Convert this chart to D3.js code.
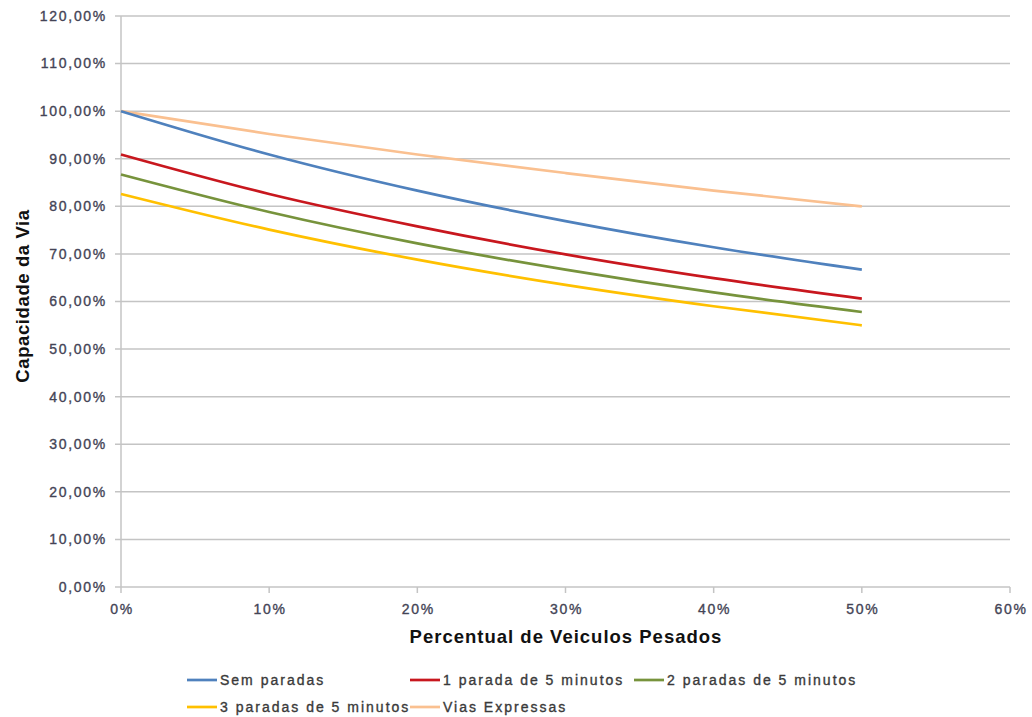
<!DOCTYPE html>
<html><head><meta charset="utf-8">
<script src="https://cdn.jsdelivr.net/npm/d3@7"></script>
<style>body{margin:0;background:#fff;font-family:"Liberation Sans",Arial,sans-serif;}</style>
</head><body><svg id="c" width="1032" height="717"></svg>
<script>
const xValues = [0, 10, 20, 30, 40, 50];
const semParadas = [100, 90.9, 83.3, 76.9, 71.4, 66.7];
const umaParada = [90.9, 82.6, 75.8, 69.9, 64.9, 60.6];
const duasParadas = [86.7, 78.8, 72.2, 66.7, 61.9, 57.8];
const tresParadas = [82.6, 75.1, 68.8, 63.5, 59.0, 55.0];
const viasExpressas = [100, 95.2, 90.9, 87.0, 83.3, 80.0];
const seriesNames = ["Sem paradas", "1 parada de 5 minutos", "2 paradas de 5 minutos", "3 paradas de 5 minutos", "Vias Expressas"];
const seriesColors = ["#4F81BD", "#C8171E", "#77933C", "#FFC000", "#FAC090"];
const yTicks = [0,10,20,30,40,50,60,70,80,90,100,110,120];
const xTicks = [0,10,20,30,40,50,60];

const series = [semParadas, umaParada, duasParadas, tresParadas, viasExpressas];
const svg = d3.select("#c");
const x = d3.scaleLinear().domain([0, 60]).range([121, 1010]);
const y = d3.scaleLinear().domain([0, 120]).range([587, 16]);

// gridlines
svg.append("g").selectAll("line").data(yTicks).join("line")
  .attr("x1", 115).attr("x2", 1010)
  .attr("y1", d => y(d)).attr("y2", d => y(d))
  .attr("stroke", "#C4C4C4").attr("stroke-width", 1.5);

// y axis line
svg.append("line").attr("x1", 121).attr("x2", 121).attr("y1", y(120)).attr("y2", y(0))
  .attr("stroke", "#C4C4C4").attr("stroke-width", 1.5);
// x axis ticks
svg.append("g").selectAll("line").data(xTicks).join("line")
  .attr("x1", d => x(d)).attr("x2", d => x(d)).attr("y1", 587).attr("y2", 593)
  .attr("stroke", "#C4C4C4").attr("stroke-width", 1.5);

// y tick labels
svg.append("g").selectAll("text").data(yTicks).join("text")
  .attr("x", 107).attr("y", d => y(d)).attr("dy", "0.35em")
  .attr("text-anchor", "end").attr("font-size", 14).attr("letter-spacing", 1.7)
  .attr("fill", "#444456").attr("stroke", "#444456").attr("stroke-width", 0.35)
  .text(d => d.toFixed(2).replace(".", ",") + "%");
// x tick labels
svg.append("g").selectAll("text").data(xTicks).join("text")
  .attr("x", d => x(d) + 1).attr("y", 609).attr("dy", "0.35em")
  .attr("text-anchor", "middle").attr("font-size", 14).attr("letter-spacing", 1.7)
  .attr("fill", "#444456").attr("stroke", "#444456").attr("stroke-width", 0.35)
  .text(d => d + "%");

// axis titles
svg.append("text").attr("x", 566).attr("y", 643).attr("text-anchor", "middle")
  .attr("font-size", 18.5).attr("letter-spacing", 1).attr("font-weight", "bold").attr("fill", "#111")
  .text("Percentual de Veiculos Pesados");
svg.append("text").attr("transform", "translate(29,296) rotate(-90)").attr("text-anchor", "middle")
  .attr("font-size", 18.5).attr("letter-spacing", 0.6).attr("font-weight", "bold").attr("fill", "#111")
  .text("Capacidade da Via");

// lines
const line = d3.line().x((d, i) => x(xValues[i])).y(d => y(d)).curve(d3.curveMonotoneX);
const drawOrder = [4, 0, 1, 2, 3];
svg.append("g").selectAll("path").data(drawOrder).join("path")
  .attr("d", i => line(series[i]))
  .attr("fill", "none").attr("stroke", i => seriesColors[i]).attr("stroke-width", 2.7);

// legend
const legendPos = [[187, 680], [410, 680], [634, 680], [187, 707], [410, 707]];
const lg = svg.append("g").selectAll("g").data(seriesNames).join("g")
  .attr("transform", (d, i) => `translate(${legendPos[i][0]},${legendPos[i][1]})`);
lg.append("line").attr("x1", 0).attr("x2", 30).attr("y1", 0).attr("y2", 0)
  .attr("stroke", (d, i) => seriesColors[i]).attr("stroke-width", 2.7);
lg.append("text").attr("x", 33).attr("y", 0).attr("dy", "0.35em")
  .attr("font-size", 14).attr("letter-spacing", 2)
  .attr("fill", "#3a3a3a").attr("stroke", "#3a3a3a").attr("stroke-width", 0.35).text(d => d);
</script></body></html>
